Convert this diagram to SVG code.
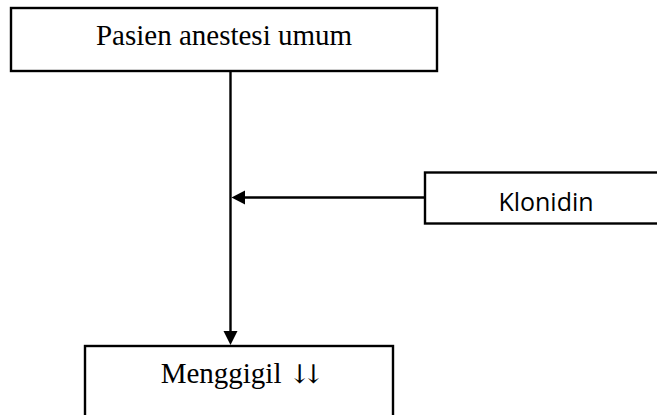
<svg xmlns="http://www.w3.org/2000/svg" width="657" height="415" viewBox="0 0 657 415">
<style>
.box{fill:#fff;stroke:#000;stroke-width:2.4}
.serif{font-family:"Liberation Serif","Times New Roman",serif;font-size:29px;fill:#000;text-anchor:middle}
.sans{font-family:"Open Sans","Liberation Sans",sans-serif;font-size:25px;fill:#000;text-anchor:middle}
.arr{font-family:"DejaVu Serif","DejaVu Sans",serif;font-size:26px;fill:#000;letter-spacing:-8px}
.conn{stroke:#000;stroke-width:2.4;fill:none}
</style>
<rect width="657" height="415" fill="#fff"/>
<g id="connectors">
<line class="conn" x1="230.5" y1="71" x2="230.5" y2="333"/>
<polygon points="223.5,331 237.5,331 230.5,345" fill="#000"/>
<line class="conn" x1="425" y1="197.5" x2="243" y2="197.5"/>
<polygon points="245,190.5 245,204.5 231.5,197.5" fill="#000"/>
</g>
<g id="node-pasien">
<rect class="box" x="11" y="8" width="426" height="63"/>
<text class="serif" x="224" y="45">Pasien anestesi umum</text>
</g>
<g id="node-klonidin">
<rect class="box" x="425" y="172.5" width="240" height="51"/>
<text class="sans" x="546" y="211">Klonidin</text>
</g>
<g id="node-menggigil">
<rect class="box" x="85" y="346" width="308" height="80"/>
<text class="serif" x="238.5" y="383">Menggigil <tspan class="arr">↓↓</tspan></text>
</g>
</svg>
